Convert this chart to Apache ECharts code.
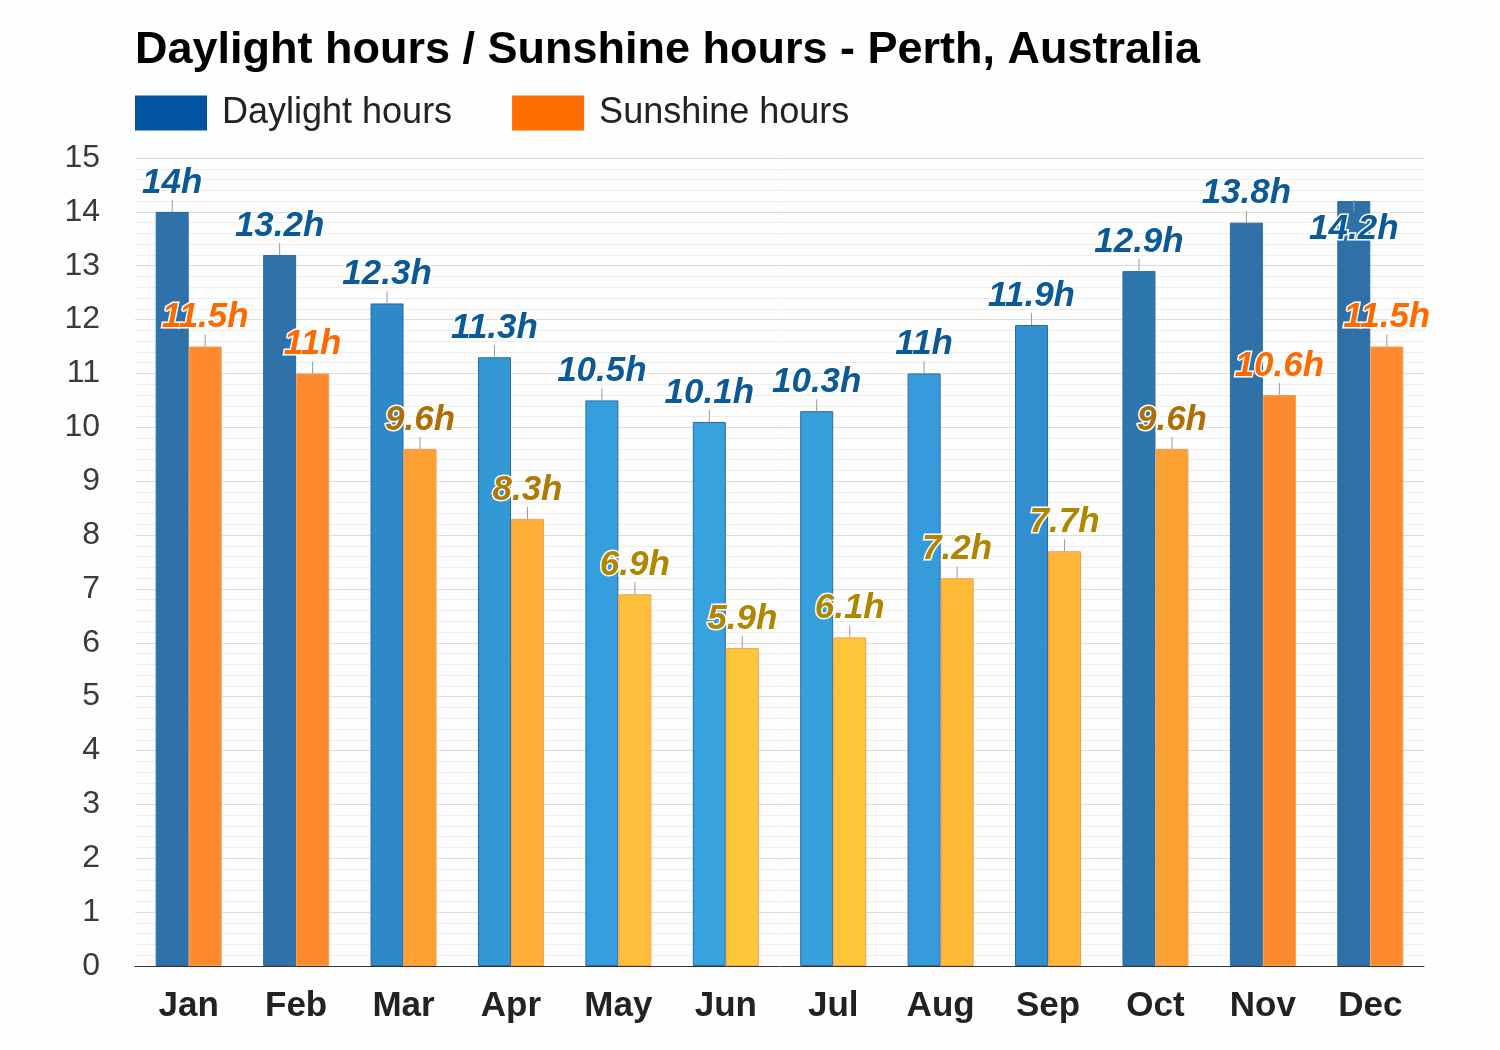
<!DOCTYPE html>
<html>
<head>
<meta charset="utf-8">
<script src="https://cdn.jsdelivr.net/npm/echarts@6/dist/echarts.min.js"></script>
<style>
  html, body { margin: 0; padding: 0; background: #fdfefd; }
  #main { width: 1500px; height: 1050px; }
</style>
</head>
<body>
<div id="main"></div>
<script>
// chart data
var months = ['Jan', 'Feb', 'Mar', 'Apr', 'May', 'Jun', 'Jul', 'Aug', 'Sep', 'Oct', 'Nov', 'Dec'];
var daylight = [14, 13.2, 12.3, 11.3, 10.5, 10.1, 10.3, 11, 11.9, 12.9, 13.8, 14.2];
var sunshine = [11.5, 11, 9.6, 8.3, 6.9, 5.9, 6.1, 7.2, 7.7, 9.6, 10.6, 11.5];

// per-month bar shades (darker in summer, lighter in winter)
var dayColors = ['#2f72aa', '#2f72aa', '#2f89c9', '#3398d6', '#369edc', '#38a2de', '#37a0dc', '#359bda', '#3290d0', '#2e76ae', '#2f72aa', '#2f70a8'];
var sunColors = ['#fe8a30', '#fe8a30', '#fea135', '#feb038', '#febf3a', '#fec83a', '#fec53a', '#febc38', '#feb538', '#fea135', '#fe8a30', '#fe8a30'];
var sunLabelColors = ['#ff6a00', '#ff6a00', '#b06e08', '#b07a04', '#b08600', '#b08600', '#b08600', '#b08600', '#b08600', '#b06e08', '#ff6a00', '#ff6a00'];

var font = '"Liberation Sans", Arial, sans-serif';

function labelRich(color) {
  return {
    v: {
      fontSize: 35, fontWeight: 'bold', fontStyle: 'italic', fontFamily: font,
      color: color, textBorderColor: '#fff', textBorderWidth: 3, lineHeight: 34
    },
    l: { width: 1, height: 12, backgroundColor: '#999' }
  };
}

var dayData = daylight.map(function (v, i) {
  var item = {
    value: v,
    itemStyle: { color: dayColors[i], borderColor: '#2c6a9e', borderWidth: 1 }
  };
  if (i === 11) {
    // top label does not fit above the plot, so it sits inside the bar
    item.label = {
      position: 'insideTop', offset: [0, -1],
      formatter: '{l|}\n{v|' + v + 'h}'
    };
  }
  return item;
});

var sunData = sunshine.map(function (v, i) {
  return {
    value: v,
    itemStyle: { color: sunColors[i], borderColor: '#fb9a4a', borderWidth: 1 },
    label: { rich: labelRich(sunLabelColors[i]) }
  };
});

var chart = echarts.init(document.getElementById('main'));
chart.setOption({
  backgroundColor: '#fdfefd',
  animation: false,
  title: {
    text: 'Daylight hours / Sunshine hours - Perth, Australia',
    left: 130, top: 23,
    textStyle: { fontSize: 45, fontWeight: 'bold', color: '#000', fontFamily: font }
  },
  legend: {
    left: 130, top: 90,
    icon: 'rect',
    itemWidth: 72, itemHeight: 35, itemGap: 60,
    textStyle: { fontSize: 36, color: '#222', fontFamily: font, padding: [0, 0, 0, 10] },
    data: ['Daylight hours', 'Sunshine hours']
  },
  grid: { left: 135, right: 76, top: 158, bottom: 84 },
  xAxis: {
    type: 'category',
    data: months,
    axisTick: { show: false },
    axisLine: { lineStyle: { color: '#333', width: 1 } },
    axisLabel: { fontSize: 35, fontWeight: 'bold', color: '#222', fontFamily: font, margin: 23 }
  },
  yAxis: {
    type: 'value',
    min: 0, max: 15, interval: 1,
    axisLabel: { fontSize: 32, color: '#3a3a3a', fontFamily: font, margin: 35 },
    splitLine: { lineStyle: { color: '#dcdcdc' } },
    minorTick: { show: false, splitNumber: 5 },
    minorSplitLine: { show: true, lineStyle: { color: '#eeeef2' } }
  },
  series: [
    {
      name: 'Daylight hours',
      type: 'bar',
      barWidth: 33,
      barGap: '0%',
      itemStyle: { color: '#0054a0' },
      label: {
        show: true, position: 'top', distance: 0, align: 'center',
        formatter: '{v|{c}h}\n{l|}',
        rich: labelRich('#0b5a97')
      },
      data: dayData
    },
    {
      name: 'Sunshine hours',
      type: 'bar',
      barWidth: 33,
      itemStyle: { color: '#ff6e00' },
      label: {
        show: true, position: 'top', distance: 0, align: 'center',
        formatter: '{v|{c}h}\n{l|}'
      },
      data: sunData
    }
  ]
});
</script>
</body>
</html>
